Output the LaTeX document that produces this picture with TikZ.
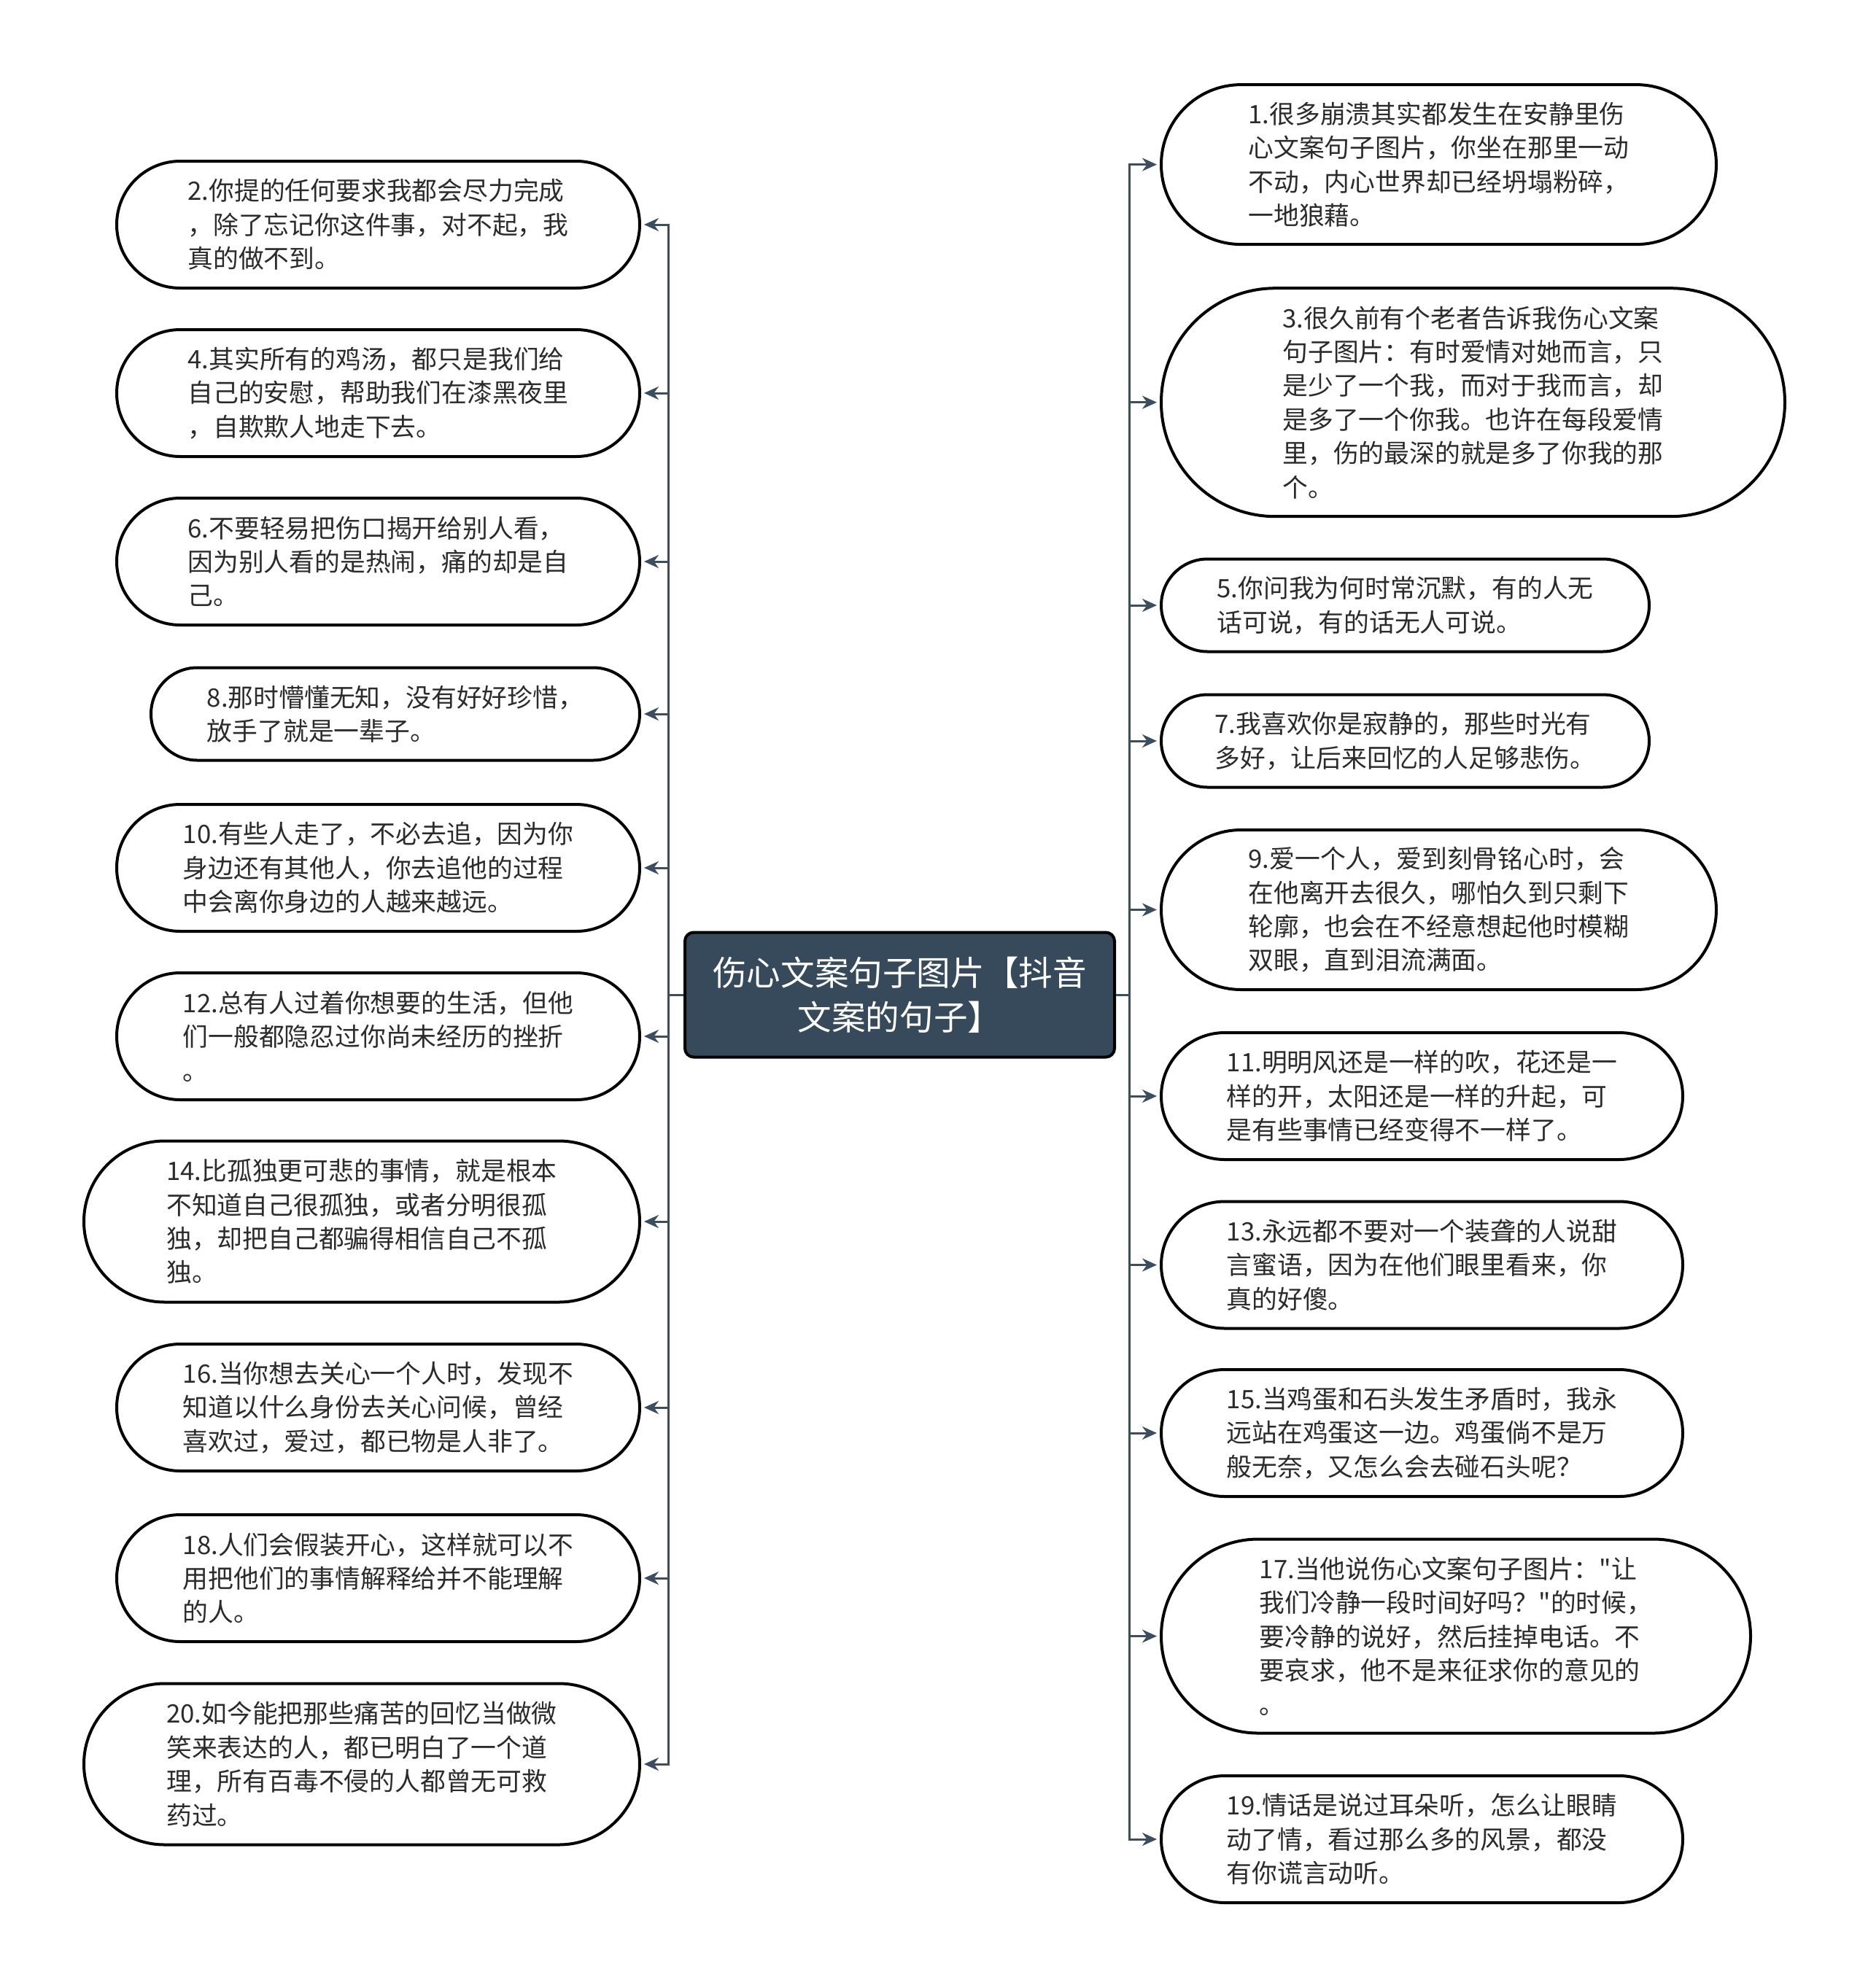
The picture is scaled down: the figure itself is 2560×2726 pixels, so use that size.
\documentclass[tikz,border=0pt]{standalone}
\usepackage{fontspec}
\setmainfont{Noto Sans CJK SC}[Ligatures=TeXOff]
\usepackage{tikz}
\usetikzlibrary{arrows.meta}
\definecolor{rootfill}{HTML}{364A5B}
\definecolor{linkcol}{HTML}{3B4D5E}
\definecolor{inkcol}{HTML}{2B2B2B}
\tikzset{
  leafbox/.style={draw=black, line width=4pt, fill=white, text=inkcol, align=left, inner sep=0pt,
    font={\fontsize{34.8pt}{46.4pt}\selectfont}},
  pill/.style 2 args={minimum width=#1pt, minimum height=#2pt, rounded corners=#2*0.5pt},
  rootbox/.style={draw=black, line width=4pt, fill=rootfill, text=white, align=center, rounded corners=12pt,
    minimum width=589pt, minimum height=171pt, inner sep=0pt, font={\fontsize{46.6pt}{60.6pt}\selectfont}},
  link/.style={draw=linkcol, line width=3pt, -{Stealth[length=20pt,width=18pt]}, shorten >=4pt}
}
\begin{document}
\begin{tikzpicture}[x=1pt,y=1pt,yscale=-1]
\useasboundingbox (0,0) rectangle (2560,2726);
% Root
\node[rootbox] (root) at (1233.5,1364) {伤心文案句子图片【抖音\\文案的句子】};
\coordinate (lt) at (916.5,1364);
\coordinate (rt) at (1548,1364);
% Left Nodes
\node[leafbox, pill={717}{174}, anchor=east] (n2) at (879,308) {2.你提的任何要求我都会尽力完成\\，除了忘记你这件事，对不起，我\\真的做不到。};
\node[leafbox, pill={717}{174}, anchor=east] (n4) at (879,539) {4.其实所有的鸡汤，都只是我们给\\自己的安慰，帮助我们在漆黑夜里\\，自欺欺人地走下去。};
\node[leafbox, pill={717}{174}, anchor=east] (n6) at (879,770) {6.不要轻易把伤口揭开给别人看，\\因为别人看的是热闹，痛的却是自\\己。};
\node[leafbox, pill={670}{127}, anchor=east] (n8) at (879,979) {8.那时懵懂无知，没有好好珍惜，\\放手了就是一辈子。};
\node[leafbox, pill={717}{174}, anchor=east] (n10) at (879,1190) {10.有些人走了，不必去追，因为你\\身边还有其他人，你去追他的过程\\中会离你身边的人越来越远。};
\node[leafbox, pill={717}{174}, anchor=east] (n12) at (879,1421) {12.总有人过着你想要的生活，但他\\们一般都隐忍过你尚未经历的挫折\\。};
\node[leafbox, pill={762}{221}, anchor=east] (n14) at (879,1675) {14.比孤独更可悲的事情，就是根本\\不知道自己很孤独，或者分明很孤\\独，却把自己都骗得相信自己不孤\\独。};
\node[leafbox, pill={717}{174}, anchor=east] (n16) at (879,1930) {16.当你想去关心一个人时，发现不\\知道以什么身份去关心问候，曾经\\喜欢过，爱过，都已物是人非了。};
\node[leafbox, pill={717}{174}, anchor=east] (n18) at (879,2164) {18.人们会假装开心，这样就可以不\\用把他们的事情解释给并不能理解\\的人。};
\node[leafbox, pill={762}{221}, anchor=east] (n20) at (879,2419) {20.如今能把那些痛苦的回忆当做微\\笑来表达的人，都已明白了一个道\\理，所有百毒不侵的人都曾无可救\\药过。};
% Right Nodes
\node[leafbox, pill={761}{219}, anchor=west] (n1) at (1590,225.6) {1.很多崩溃其实都发生在安静里伤\\心文案句子图片，你坐在那里一动\\不动，内心世界却已经坍塌粉碎，\\一地狼藉。};
\node[leafbox, pill={855}{313}, anchor=west] (n3) at (1590,551.7) {3.很久前有个老者告诉我伤心文案\\句子图片：有时爱情对她而言，只\\是少了一个我，而对于我而言，却\\是多了一个你我。也许在每段爱情\\里，伤的最深的就是多了你我的那\\个。};
\node[leafbox, pill={669}{127}, anchor=west] (n5) at (1590,830) {5.你问我为何时常沉默，有的人无\\话可说，有的话无人可说。};
\node[leafbox, pill={669}{127}, anchor=west] (n7) at (1590,1016) {7.我喜欢你是寂静的，那些时光有\\多好，让后来回忆的人足够悲伤。};
\node[leafbox, pill={761}{219}, anchor=west] (n9) at (1590,1247.5) {9.爱一个人，爱到刻骨铭心时，会\\在他离开去很久，哪怕久到只剩下\\轮廓，也会在不经意想起他时模糊\\双眼，直到泪流满面。};
\node[leafbox, pill={715}{174}, anchor=west] (n11) at (1590,1503) {11.明明风还是一样的吹，花还是一\\样的开，太阳还是一样的升起，可\\是有些事情已经变得不一样了。};
\node[leafbox, pill={715}{174}, anchor=west] (n13) at (1590,1734.5) {13.永远都不要对一个装聋的人说甜\\言蜜语，因为在他们眼里看来，你\\真的好傻。};
\node[leafbox, pill={715}{174}, anchor=west] (n15) at (1590,1965) {15.当鸡蛋和石头发生矛盾时，我永\\远站在鸡蛋这一边。鸡蛋倘不是万\\般无奈，又怎么会去碰石头呢？};
\node[leafbox, pill={808}{266}, anchor=west] (n17) at (1590,2243.5) {17.当他说伤心文案句子图片："让\\我们冷静一段时间好吗？"的时候，\\要冷静的说好，然后挂掉电话。不\\要哀求，他不是来征求你的意见的\\。};
\node[leafbox, pill={715}{174}, anchor=west] (n19) at (1590,2522) {19.情话是说过耳朵听，怎么让眼睛\\动了情，看过那么多的风景，都没\\有你谎言动听。};
% Left Links
\draw[link] (root.west) -- (lt) |- (n2.east);
\draw[link] (root.west) -- (lt) |- (n4.east);
\draw[link] (root.west) -- (lt) |- (n6.east);
\draw[link] (root.west) -- (lt) |- (n8.east);
\draw[link] (root.west) -- (lt) |- (n10.east);
\draw[link] (root.west) -- (lt) |- (n12.east);
\draw[link] (root.west) -- (lt) |- (n14.east);
\draw[link] (root.west) -- (lt) |- (n16.east);
\draw[link] (root.west) -- (lt) |- (n18.east);
\draw[link] (root.west) -- (lt) |- (n20.east);
% Right Links
\draw[link] (root.east) -- (rt) |- (n1.west);
\draw[link] (root.east) -- (rt) |- (n3.west);
\draw[link] (root.east) -- (rt) |- (n5.west);
\draw[link] (root.east) -- (rt) |- (n7.west);
\draw[link] (root.east) -- (rt) |- (n9.west);
\draw[link] (root.east) -- (rt) |- (n11.west);
\draw[link] (root.east) -- (rt) |- (n13.west);
\draw[link] (root.east) -- (rt) |- (n15.west);
\draw[link] (root.east) -- (rt) |- (n17.west);
\draw[link] (root.east) -- (rt) |- (n19.west);
\end{tikzpicture}
\end{document}
